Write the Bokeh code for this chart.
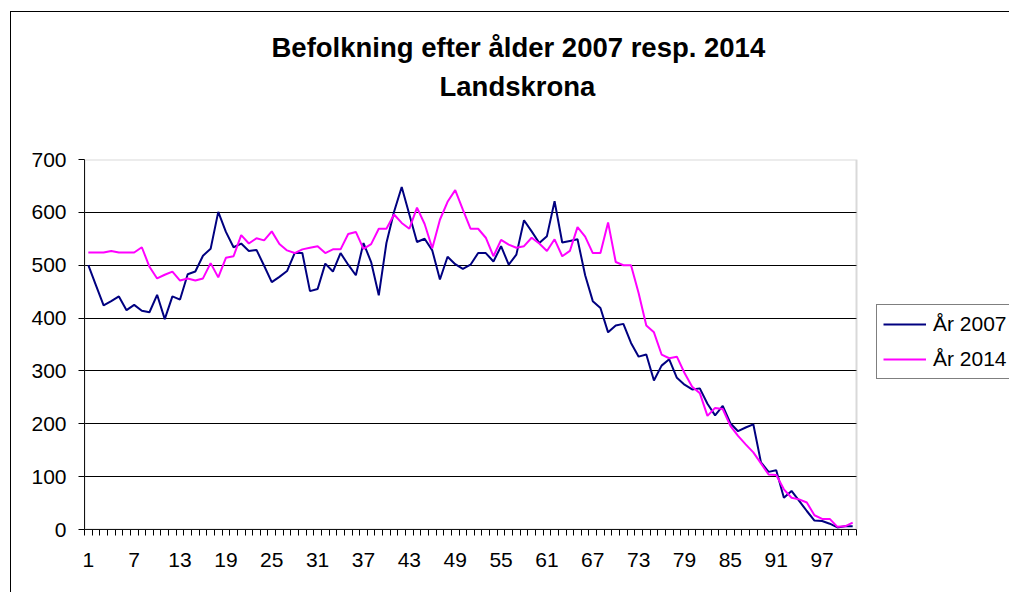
from bokeh.plotting import figure
from bokeh.models import (Range1d, FixedTicker, Legend, LegendItem, Title,
                          LinearAxis, BoxAnnotation)
from bokeh.embed import file_html
from bokeh.resources import INLINE

# ---- data ----
ages = list(range(1, 102))
y2007 = [500, 462, 424, 432, 441, 415, 425, 414, 411, 444,
         398, 441, 435, 483, 488, 518, 531, 601, 563, 534,
         541, 527, 529, 499, 468, 478, 489, 523, 523, 451,
         455, 503, 488, 523, 501, 481, 542, 506, 443, 542,
         601, 648, 596, 544, 550, 528, 473, 516, 502, 493,
         501, 523, 523, 507, 536, 501, 520, 585, 564, 542,
         555, 621, 543, 546, 549, 481, 432, 419, 373, 386,
         389, 353, 327, 331, 282, 310, 322, 287, 274, 265,
         267, 238, 216, 234, 201, 186, 193, 199, 127, 109,
         112, 60, 73, 54, 35, 17, 16, 11, 4, 6,
         6]
y2014 = [524, 524, 524, 527, 524, 524, 524, 534, 497, 475,
         482, 488, 471, 475, 471, 475, 504, 477, 514, 517,
         557, 541, 551, 547, 564, 540, 528, 523, 530, 533,
         536, 523, 530, 530, 559, 563, 531, 540, 569, 569,
         596, 580, 569, 609, 578, 532, 586, 620, 642, 605,
         569, 569, 552, 517, 548, 539, 533, 536, 552, 541,
         527, 549, 517, 527, 572, 554, 523, 523, 581, 506,
         500, 500, 447, 386, 373, 331, 324, 327, 296, 270,
         258, 215, 230, 228, 196, 177, 161, 146, 125, 104,
         103, 76, 60, 57, 51, 27, 20, 20, 5, 6,
         13]
x_tick_values = list(range(1, 102, 6))
x_tick_labels = [str(v) for v in x_tick_values]
y_tick_values = [0, 100, 200, 300, 400, 500, 600, 700]
series_names = ["År 2007", "År 2014"]
series_colors = ["#000080", "#FF00FF"]
title_lines = ["Befolkning efter ålder 2007 resp. 2014", "Landskrona"]

FONT = "Liberation Sans"

# plot-area extent in data units; the frame continues to the right edge so
# that the legend (which sits to the right of the plot area) is not clipped
X_LO, X_HI = ages[0] - 0.5, ages[-1] + 0.5
LEFT, PLOT_W, CANVAS_W = 84, 772, 1009
x_end = X_LO + (X_HI - X_LO) * (CANVAS_W - LEFT) / PLOT_W

p = figure(width=CANVAS_W, height=592, output_backend="svg", toolbar_location=None,
           x_range=Range1d(X_LO, x_end), y_range=Range1d(0, 700),
           min_border_left=LEFT, min_border_right=0,
           min_border_top=159, min_border_bottom=63)
p.title = None
p.border_fill_color = None
p.background_fill_color = "white"
p.styles = {
    "background": ("linear-gradient(#000, #000) 10px 11px / 1px 100% no-repeat, "
                   "linear-gradient(#000, #000) 10px 11px / 100% 1px no-repeat, white")
}
p.outline_line_color = None

# plot area border (grey)
p.add_layout(BoxAnnotation(left=X_LO, right=X_HI, bottom=0, top=700,
                           fill_alpha=0, line_color="#808080", line_width=2))

# horizontal grid lines, limited to the plot area
grid_vals = y_tick_values[1:-1]
try:
    p.ygrid.ticker = FixedTicker(ticks=grid_vals)
    p.ygrid.cross_bounds = (X_LO, X_HI)
    p.ygrid.grid_line_color = "black"
    p.ygrid.grid_line_width = 1
except AttributeError:
    p.ygrid.visible = False
    p.segment(x0=[X_LO] * len(grid_vals), x1=[X_HI] * len(grid_vals),
              y0=grid_vals, y1=grid_vals, line_color="black", line_width=1)
p.xgrid.visible = False

renderers = []
for ys, col in zip([y2007, y2014], series_colors):
    r = p.line(ages, ys, line_color=col, line_width=2)
    renderers.append(r)

# x axis
xt = FixedTicker(ticks=x_tick_values,
                 minor_ticks=[a - 0.5 for a in ages] + [ages[-1] + 0.5])
p.xaxis.ticker = xt
p.xaxis.bounds = (X_LO, X_HI)
p.xaxis.major_label_overrides = {v: l for v, l in zip(x_tick_values, x_tick_labels)}
p.xaxis.major_tick_out = 0
p.xaxis.major_tick_in = 0
p.xaxis.minor_tick_out = 6
p.xaxis.minor_tick_in = 0
p.xaxis.minor_tick_line_color = "black"
p.xaxis.axis_line_color = "black"
p.xaxis.major_label_standoff = 17
p.xaxis.major_label_text_font = FONT
p.xaxis.major_label_text_font_size = "21px"
p.xaxis.major_label_text_color = "black"

# y axis
p.yaxis.ticker = FixedTicker(ticks=y_tick_values)
p.yaxis.major_tick_out = 6
p.yaxis.major_tick_in = 0
p.yaxis.minor_tick_out = 0
p.yaxis.minor_tick_in = 0
p.yaxis.major_tick_line_color = "black"
p.yaxis.axis_line_color = "black"
p.yaxis.major_label_standoff = 12
p.yaxis.major_label_text_font = FONT
p.yaxis.major_label_text_font_size = "21px"
p.yaxis.major_label_text_color = "black"

# gap between the title block and the plot area (invisible axis)
p.add_layout(LinearAxis(ticker=FixedTicker(ticks=[50]), axis_line_color=None,
                        major_tick_out=55, major_tick_in=0, minor_tick_out=0,
                        minor_tick_in=0, major_tick_line_color=None,
                        major_label_standoff=0, major_label_overrides={50: ""},
                        major_label_text_font_size="1px"), "above")

# title lines (inner line added first)
for txt, off in [(title_lines[1], 355), (title_lines[0], 187)]:
    p.add_layout(Title(text=txt, align="left", offset=off, standoff=6,
                       vertical_align="bottom", text_font=FONT,
                       text_font_style="bold", text_font_size="27.5px",
                       text_color="black"), "above")

legend = Legend(items=[LegendItem(label=n, renderers=[r]) for n, r in zip(series_names, renderers)],
                location=(792, 150), margin=0, padding=6, spacing=9,
                glyph_width=43, glyph_height=26, label_height=26, label_standoff=7,
                label_text_font=FONT, label_text_font_size="21px",
                label_text_color="black",
                border_line_color="black", border_line_width=1,
                background_fill_color="white", background_fill_alpha=1)
p.add_layout(legend)

open("out.html", "w").write(file_html(p, INLINE))
